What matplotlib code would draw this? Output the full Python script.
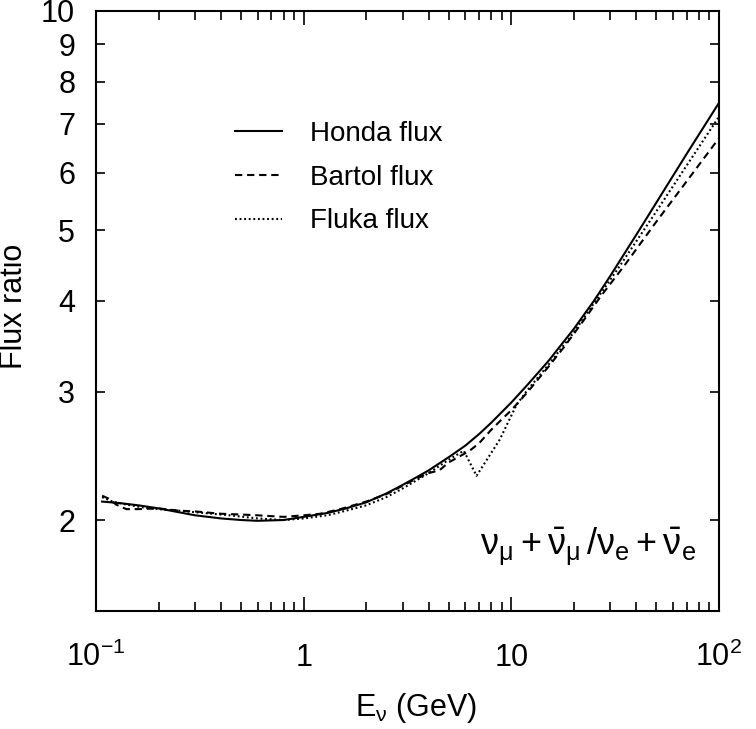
import matplotlib
matplotlib.use("Agg")
import matplotlib.pyplot as plt
from matplotlib.ticker import FixedLocator, FixedFormatter, NullLocator

plt.rcParams['font.family'] = ['Liberation Sans', 'DejaVu Sans']
plt.rcParams['mathtext.fontset'] = 'custom'
plt.rcParams['mathtext.rm'] = 'Liberation Sans'
plt.rcParams['mathtext.it'] = 'Liberation Sans'

# ---- data ----
honda_E = [0.107, 0.13, 0.16, 0.2, 0.25, 0.3, 0.4, 0.5, 0.6, 0.8, 1.0, 1.3, 1.6,
           2.0, 2.5, 3.0, 3.5, 4.0, 5.0, 6.0, 7.0, 8.0, 10, 12, 15, 20, 25, 30,
           40, 50, 70, 100]
honda_R = [2.12, 2.11, 2.095, 2.075, 2.05, 2.03, 2.01, 2.00, 1.995, 2.0, 2.02,
           2.045, 2.075, 2.115, 2.175, 2.235, 2.29, 2.34, 2.44, 2.53, 2.625, 2.72,
           2.90, 3.07, 3.30, 3.66, 4.0, 4.33, 4.93, 5.46, 6.37, 7.48]

bartol_E = [0.107, 0.115, 0.125, 0.14, 0.16, 0.2, 0.25, 0.3, 0.4, 0.5, 0.6, 0.8,
            1.0, 1.2, 1.5, 2.0, 2.5, 3.0, 3.5, 4.0, 4.5, 5.0, 5.7, 6.3, 7.0, 8.0,
            9.0, 10, 12, 15, 18, 22, 27, 35, 50, 70, 100]
bartol_R = [2.16, 2.14, 2.10, 2.07, 2.07, 2.075, 2.06, 2.055, 2.04, 2.035, 2.03,
            2.02, 2.03, 2.04, 2.07, 2.12, 2.17, 2.23, 2.28, 2.32, 2.34, 2.40, 2.45,
            2.49, 2.55, 2.66, 2.75, 2.83, 3.0, 3.24, 3.46, 3.74, 4.06, 4.47, 5.14,
            5.84, 6.69]

fluka_E = [0.107, 0.12, 0.14, 0.17, 0.2, 0.25, 0.3, 0.44, 0.6, 0.8, 1.0, 1.3, 1.6,
           2.0, 2.5, 3.0, 4.0, 5.0, 5.9, 6.8, 8.8, 10.6, 12, 15, 20, 25, 33, 50,
           70, 100]
fluka_R = [2.15, 2.12, 2.10, 2.08, 2.07, 2.06, 2.05, 2.03, 2.01, 2.0, 2.01, 2.03,
           2.06, 2.095, 2.15, 2.21, 2.32, 2.42, 2.49, 2.30, 2.58, 2.88, 3.02, 3.26,
           3.62, 3.97, 4.45, 5.31, 6.14, 7.16]

series_labels = ["Honda flux", "Bartol flux", "Fluka flux"]

x_major = [0.1, 1, 10, 100]
x_major_labels = [r'$\mathregular{10^{-1}}$', '1', '10', r'$\mathregular{10^{2}}$']
x_minor = [m * d for d in (0.1, 1, 10) for m in range(2, 10)]
y_ticks = [2, 3, 4, 5, 6, 7, 8, 9, 10]
y_tick_labels = ['2', '3', '4', '5', '6', '7', '8', '9', '10']

# ---- figure ----
fig = plt.figure(figsize=(7.56, 7.29), dpi=100)
ax = fig.add_axes([96/756, 1 - 611/729, (719-96)/756, (611-11)/729])

lw = 1.5
ax.plot(honda_E, honda_R, color='black', lw=lw, ls='-', label=series_labels[0])
ax.plot(bartol_E, bartol_R, color='black', lw=lw, dashes=(3.5, 2.3), label=series_labels[1])
ax.plot(fluka_E, fluka_R, color='black', lw=lw, dashes=(0.9, 1.3), label=series_labels[2])

ax.set_xscale('log')
ax.set_yscale('log')
ax.set_xlim(0.1, 100)
ax.set_ylim(1.5, 10)

ax.set_xticks(x_major, x_major_labels, va='baseline')
ax.xaxis.set_minor_locator(FixedLocator(x_minor))
ax.xaxis.set_minor_formatter(FixedFormatter([''] * len(x_minor)))
ax.yaxis.set_major_locator(FixedLocator(y_ticks))
ax.yaxis.set_major_formatter(FixedFormatter(y_tick_labels))
ax.yaxis.set_minor_locator(NullLocator())

for s in ax.spines.values():
    s.set_linewidth(1.5)

ax.tick_params(axis='both', which='both', direction='in', top=True, right=True,
               width=1.2, labelsize=22)
ax.tick_params(axis='x', which='major', length=10, pad=39.6)
ax.tick_params(axis='x', which='minor', length=6.5)
ax.tick_params(axis='y', which='major', length=6.5, pad=15)

ax.set_xlabel(r'$\mathregular{E_{\nu}}$ (GeV)', fontsize=22)
ax.xaxis.set_label_coords(0.5136, -0.1758)
ax.xaxis.label.set_va('baseline')
ax.set_ylabel('Flux ratio', fontsize=22)
ax.yaxis.label.set_va('center')
ax.yaxis.set_label_coords(-0.1324, 0.5075)

leg = ax.legend(loc='upper left', bbox_to_anchor=(0.223, 0.817), frameon=False,
                fontsize=20, handlelength=1.69, handletextpad=1.0,
                labelspacing=0.64, borderpad=0, borderaxespad=0)

ax.text(0.963, 0.0933,
        r'$\mathregular{\nu_{\mu}+\bar{\nu}_{\mu}\,/\nu_{e}+\bar{\nu}_{e}}$',
        transform=ax.transAxes, ha='right', va='baseline', fontsize=26)

fig.savefig('out.png', dpi=100)
